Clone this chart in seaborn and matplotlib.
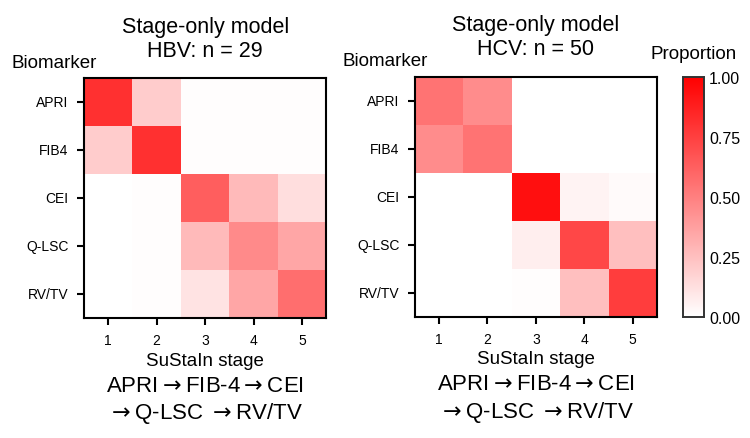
import matplotlib
matplotlib.use("Agg")
import matplotlib.pyplot as plt
import seaborn as sns
import pandas as pd
from matplotlib.colors import LinearSegmentedColormap

biomarkers = ["APRI", "FIB4", "CEI", "Q-LSC", "RV/TV"]
stages = [1, 2, 3, 4, 5]

hbv_values = [
    [0.81, 0.20, 0.01, 0.01, 0.01],
    [0.20, 0.81, 0.01, 0.01, 0.01],
    [0.00, 0.01, 0.63, 0.27, 0.13],
    [0.00, 0.01, 0.27, 0.46, 0.35],
    [0.00, 0.01, 0.11, 0.35, 0.57],
]
hcv_values = [
    [0.55, 0.45, 0.00, 0.00, 0.00],
    [0.45, 0.55, 0.00, 0.00, 0.00],
    [0.00, 0.00, 0.94, 0.05, 0.02],
    [0.00, 0.00, 0.07, 0.72, 0.25],
    [0.00, 0.00, 0.01, 0.25, 0.76],
]
titles = ["Stage-only model\nHBV: n = 29", "Stage-only model\nHCV: n = 50"]
arrow = "${\\rightarrow}$"
order_text = f"APRI{arrow}FIB-4{arrow}CEI\n{arrow}Q-LSC {arrow}RV/TV"

plt.rcParams["font.family"] = ["Liberation Sans", "DejaVu Sans"]
plt.rcParams["mathtext.fontset"] = "dejavusans"

cmap = LinearSegmentedColormap.from_list("wr", ["#ffffff", "#ff0000"])

fig = plt.figure(figsize=(7.5, 4.39), dpi=100)
ax1 = fig.add_axes([0.112, 0.273, 0.323, 0.547])
ax2 = fig.add_axes([0.553, 0.276, 0.323, 0.547])
cax = fig.add_axes([0.911, 0.276, 0.027, 0.547])

for ax, vals, title in [(ax1, hbv_values, titles[0]), (ax2, hcv_values, titles[1])]:
    df = pd.DataFrame(vals, index=biomarkers, columns=stages)
    sns.heatmap(df, ax=ax, cmap=cmap, vmin=0, vmax=1, cbar=(ax is ax2),
                cbar_ax=cax if ax is ax2 else None)
    for s in ax.spines.values():
        s.set_visible(True)
        s.set_linewidth(1.5)
        s.set_color("black")
    ax.tick_params(axis="both", length=5, width=1.5, labelsize=10, pad=6)
    ax.set_yticklabels(biomarkers, rotation=0)
    ax.set_xticklabels(stages, rotation=0)
    ax.set_xlabel("SuStaIn stage", fontsize=13.5, labelpad=3)
    ax.set_ylabel("")
    ax.set_title(title, fontsize=15.5, pad=16, linespacing=1.2)
    ax.text(-0.3, 1.03, "Biomarker", transform=ax.transAxes, fontsize=13.5,
            ha="left", va="bottom")
    ax.text(0.5, -0.235, order_text, transform=ax.transAxes, fontsize=16,
            ha="center", va="top", linespacing=1.25)

cax.tick_params(labelsize=11.5, length=0, pad=4)
cax.set_yticks([0, 0.25, 0.5, 0.75, 1.0])
cax.set_yticklabels(["0.00", "0.25", "0.50", "0.75", "1.00"])
for s in cax.spines.values():
    s.set_visible(True)
    s.set_linewidth(1.2)
    s.set_color("#333333")
cax.text(0.5, 1.06, "Proportion", transform=cax.transAxes, fontsize=13.5,
         ha="center", va="bottom")

fig.savefig("out.png", dpi=100)
